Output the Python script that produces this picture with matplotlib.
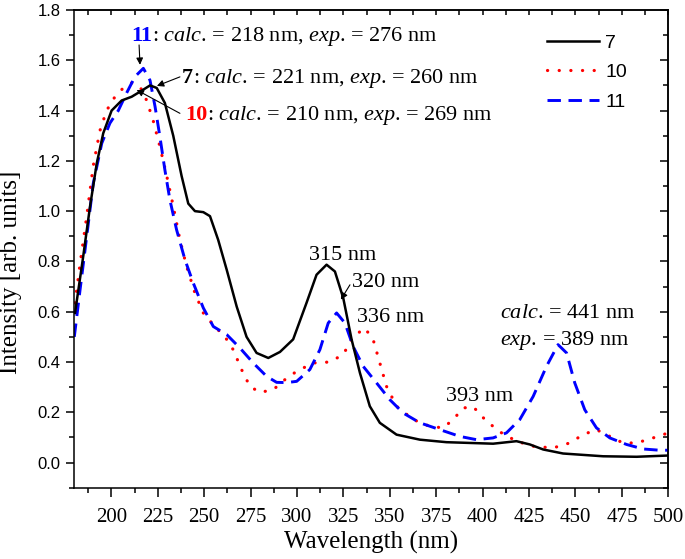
import matplotlib
matplotlib.use("Agg")
import matplotlib.pyplot as plt
import matplotlib.transforms as mtransforms
from matplotlib.ticker import MultipleLocator

# ---------------- data ----------------
wl7 = [180.4, 184.8, 188.5, 192.1, 195.6, 200.1, 205.5, 210.9, 215.4, 220.8, 224.4, 228.8,
       233.3, 237.8, 241.4, 245.0, 249.5, 253.1, 257.5, 262.1, 267.5, 272.8, 278.2, 284.5,
       290.8, 297.9, 305.1, 310.5, 315.9, 320.4, 324.9, 329.4, 333.9, 339.2, 344.6, 353.6,
       366.2, 380.5, 393.1, 405.6, 418.2, 425.4, 432.6, 443.3, 464.9, 482.9, 500.0]
int7 = [0.595, 0.82, 1.02, 1.19, 1.31, 1.40, 1.44, 1.455, 1.475, 1.50, 1.49, 1.43,
        1.30, 1.14, 1.03, 1.00, 0.996, 0.98, 0.886, 0.767, 0.62, 0.50, 0.436, 0.416,
        0.44, 0.49, 0.635, 0.747, 0.787, 0.76, 0.654, 0.489, 0.356, 0.224, 0.158, 0.111,
        0.091, 0.081, 0.078, 0.075, 0.085, 0.072, 0.052, 0.036, 0.025, 0.023, 0.028]

wl10 = [180.4, 183.1, 186.7, 190.2, 193.8, 197.4, 201.9, 206.4, 210.9, 215.4, 219.0, 222.5,
        226.1, 229.8, 233.3, 236.9, 240.5, 245.0, 249.5, 255.8, 261.2, 265.6, 270.1, 274.6,
        280.0, 287.2, 293.5, 299.8, 308.7, 317.7, 324.9, 330.2, 336.5, 341.0, 344.6, 348.2,
        353.6, 362.6, 371.5, 378.7, 384.1, 389.5, 394.9, 402.1, 410.2, 418.2, 427.2, 437.9,
        446.9, 454.1, 461.3, 468.5, 475.6, 482.9, 491.8, 500.0]
int10 = [0.635, 0.79, 0.98, 1.18, 1.32, 1.40, 1.455, 1.49, 1.51, 1.495, 1.44, 1.36,
         1.257, 1.14, 1.02, 0.886, 0.78, 0.674, 0.595, 0.54, 0.50, 0.449, 0.37, 0.303,
         0.279, 0.29, 0.33, 0.363, 0.396, 0.40, 0.43, 0.50, 0.535, 0.489, 0.396, 0.303,
         0.224, 0.171, 0.144, 0.138, 0.171, 0.217, 0.222, 0.164, 0.118, 0.085, 0.065, 0.058,
         0.078, 0.111, 0.131, 0.104, 0.078, 0.078, 0.098, 0.118]

wl11 = [180.0, 183.1, 186.7, 190.2, 194.8, 199.2, 203.7, 208.2, 212.7, 217.2, 220.8, 223.5,
        226.1, 228.8, 231.5, 235.1, 239.6, 244.1, 249.5, 254.9, 262.1, 269.2, 276.4, 283.6,
        289.0, 294.4, 299.8, 306.9, 312.3, 316.8, 321.3, 325.8, 330.2, 335.6, 342.8, 350.0,
        357.2, 366.2, 376.9, 387.7, 396.7, 405.6, 412.8, 420.0, 427.2, 434.4, 440.6, 445.2,
        449.6, 455.0, 461.3, 468.5, 477.5, 486.4, 495.4, 500.0]
int11 = [0.50, 0.687, 0.90, 1.11, 1.27, 1.35, 1.40, 1.47, 1.535, 1.568, 1.52, 1.416,
         1.297, 1.164, 1.045, 0.926, 0.807, 0.714, 0.615, 0.541, 0.509, 0.456, 0.396, 0.343,
         0.319, 0.318, 0.323, 0.37, 0.449, 0.555, 0.595, 0.555, 0.462, 0.383, 0.317, 0.25,
         0.197, 0.158, 0.131, 0.104, 0.091, 0.098, 0.118, 0.171, 0.263, 0.383, 0.469, 0.436,
         0.317, 0.21, 0.138, 0.098, 0.072, 0.054, 0.049, 0.049]

series_labels = ["7", "10", "11"]
x_ticks = [200, 225, 250, 275, 300, 325, 350, 375, 400, 425, 450, 475, 500]
y_ticks = [0.0, 0.2, 0.4, 0.6, 0.8, 1.0, 1.2, 1.4, 1.6, 1.8]

# ---------------- style ----------------
SERIF = "Liberation Serif"
SANS = "Liberation Sans"
plt.rcParams["mathtext.fontset"] = "custom"
plt.rcParams["mathtext.rm"] = SERIF
plt.rcParams["mathtext.it"] = SERIF + ":italic"
plt.rcParams["mathtext.bf"] = SERIF + ":bold"

W, H = 685, 559
fig = plt.figure(figsize=(W / 100, H / 100), dpi=100)
L, R, T, B = 74.3, 668.3, 10.0, 487.7
ax = fig.add_axes([L / W, 1 - B / H, (R - L) / W, (B - T) / H])

ax.plot(wl7, int7, color="black", lw=1.8, label=series_labels[0], zorder=3)
ax.plot(wl10, int10, color="#ff0000", lw=2.3, linestyle=(0, (0.05, 3.6)),
        dash_capstyle="round", solid_capstyle="round", label=series_labels[1], zorder=2)
ax.plot(wl11, int11, color="#0000ff", lw=2.1, linestyle=(0, (4.6, 2.6)),
        label=series_labels[2], zorder=2)

ax.set_xlim(180, 500)
ax.set_ylim(-0.1, 1.8)
ax.set_xticks(x_ticks)
ax.set_yticks(y_ticks)
ax.xaxis.set_minor_locator(MultipleLocator(12.5))
ax.yaxis.set_minor_locator(MultipleLocator(0.1))
ax.set_xticklabels([str(v) for v in x_ticks], fontfamily=SERIF, fontsize=15)
ax.set_yticklabels([f"{v:.1f}" for v in y_ticks], fontfamily=SANS, fontsize=12)

for s in ax.spines.values():
    s.set_linewidth(1.1)
ax.tick_params(axis="x", which="major", direction="out", length=6.5, width=1.1, pad=8,
               top=False)
ax.tick_params(axis="x", which="minor", direction="out", length=3.5, width=1.1, top=False)
ax.tick_params(axis="y", which="major", direction="out", length=6, width=1.1, pad=4,
               right=False)
ax.tick_params(axis="y", which="minor", direction="out", length=3.5, width=1.1, right=False)

# top & right inward ticks via secondary axes
sx = ax.secondary_xaxis("top")
sx.set_xticks(x_ticks)
sx.xaxis.set_minor_locator(MultipleLocator(12.5))
sx.tick_params(which="both", direction="in", length=3.5, width=1.1, labeltop=False)
sx.spines["top"].set_linewidth(1.1)
sy = ax.secondary_yaxis("right")
sy.set_yticks(y_ticks)
sy.yaxis.set_minor_locator(MultipleLocator(0.1))
sy.tick_params(which="major", direction="in", length=6, width=1.1, labelright=False)
sy.tick_params(which="minor", direction="in", length=3.5, width=1.1)
sy.spines["right"].set_linewidth(1.1)

ax.set_xlabel("Wavelength (nm)", fontfamily=SERIF, fontsize=18, labelpad=3)
ax.set_ylabel("Intensity [arb. units]", fontfamily=SERIF, fontsize=18)
ax.yaxis.set_label_coords(-0.088, 0.4515)

leg = ax.legend(loc="upper left", bbox_to_anchor=((547 - L) / (R - L), (B - 34) / (B - T)),
                frameon=False, prop={"family": SANS, "size": 14}, borderpad=0,
                borderaxespad=0, handlelength=2.65, handletextpad=0.35, labelspacing=0.62)

# ---------------- annotations ----------------
FS = 16


def composite(x, y, num, color, rest):
    t1 = ax.text(x, y, num, color=color, fontweight="bold", fontfamily=SERIF,
                 fontsize=FS, va="baseline", ha="left")
    fig.canvas.draw()
    w = t1.get_window_extent().width
    tr = mtransforms.offset_copy(ax.transData, fig=fig, x=w, y=0, units="dots")
    ax.text(x, y, rest, transform=tr, fontfamily=SERIF, fontsize=FS, va="baseline", ha="left")


composite(210.5, 1.677, "11", "#0000ff", r": $\mathit{calc}$. = 218 nm, $\mathit{exp}$. = 276 nm")
composite(237.8, 1.508, "7", "black", r": $\mathit{calc}$. = 221 nm, $\mathit{exp}$. = 260 nm")
composite(239.6, 1.361, "10", "#ff0000", r": $\mathit{calc}$. = 210 nm, $\mathit{exp}$. = 269 nm")

def plain(x, y, s):
    ax.text(x, y, s, fontfamily=SERIF, fontsize=FS, va="baseline", ha="left")

plain(306.3, 0.807, "315 nm")
plain(329.4, 0.697, "320 nm")
plain(332.1, 0.560, "336 nm")
plain(380.0, 0.246, "393 nm")
plain(409.2, 0.576, r"$\mathit{calc}$. = 441 nm")
plain(409.2, 0.469, r"$\mathit{exp}$. = 389 nm")

arrows = [((215.4, 1.582), (214.9, 1.661)),
          ((224.5, 1.498), (236.9, 1.534)),
          ((213.6, 1.482), (236.9, 1.389)),
          ((323.6, 0.648), (328.5, 0.707))]
for head, tail in arrows:
    ax.annotate("", xy=head, xytext=tail,
                arrowprops=dict(arrowstyle="-|>", color="black", lw=0.8,
                                mutation_scale=10, shrinkA=0, shrinkB=0))

fig.savefig("out.png", dpi=100)
